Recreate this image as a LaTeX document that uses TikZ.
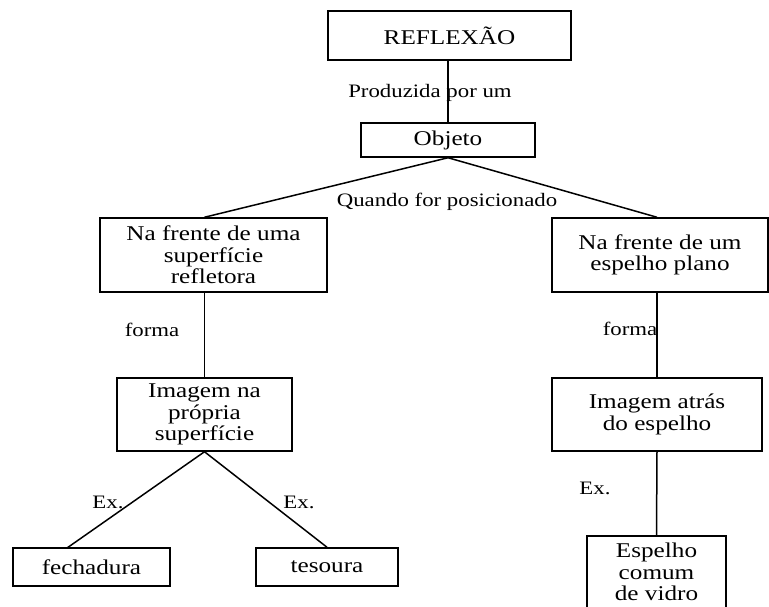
\documentclass[tikz,border=0pt]{standalone}
\usepackage{fontspec}
\setmainfont{Liberation Serif}[FakeStretch=1.2]
\begin{document}
\begin{tikzpicture}[x=1pt,y=-1pt,line width=1.5pt,
  box/.style={draw,inner sep=0pt,align=center,font=\fontsize{21}{21.5}\selectfont},
  lbl/.style={inner sep=0pt,font=\fontsize{19}{21}\selectfont}]
\useasboundingbox (0,0) rectangle (769,607);
\node[box,minimum width=243,minimum height=49] (refl) at (449.5,35.5) {REFLEXÃO};
\node[box,minimum width=174,minimum height=34] (obj) at (448,140) {Objeto};
\node[box,minimum width=227,minimum height=74] (sup) at (213.5,255) {Na frente de uma\\superfície\\refletora};
\node[box,minimum width=216,minimum height=74] (esp) at (660,255) {Na frente de um\\espelho plano};
\node[box,minimum width=175,minimum height=73] (imgsup) at (204.5,414.5) {Imagem na\\própria\\superfície};
\node[box,minimum width=210,minimum height=73] (imgesp) at (657,414.5) {Imagem atrás\\do espelho};
\node[box,minimum width=157,minimum height=38] (fech) at (91.5,567) {fechadura};
\node[box,minimum width=142,minimum height=38] (tes) at (327,567) {tesoura};
\node[box,minimum width=139,minimum height=72] (vidro) at (656.5,572) {Espelho\\comum\\de vidro};
\coordinate (fechtop) at (67,548);
% ligacoes
\draw (refl.south -| obj) -- (obj.north);
\draw (obj.south) -- (imgsup.north |- sup.north);
\draw (obj.south) -- (imgesp.north |- esp.north);
\draw (imgsup.north |- sup.south) -- (imgsup.north);
\draw (imgesp.north |- esp.south) -- (imgesp.north);
\draw (imgsup.south) -- (fechtop);
\draw (imgsup.south) -- (tes.north);
\draw (imgesp.south) -- (vidro.north);
% rotulos
\node[lbl] (prod) at (430,93) {Produzida por um};
\node[lbl] (quando) at (447,202) {Quando for posicionado};
\foreach \n/\x/\y/\t in {formaa/152/330/forma,formab/630/329/forma,exa/108/502/Ex.,exb/299/502/Ex.,exc/595/488/Ex.}
  \node[lbl] (\n) at (\x,\y) {\t};
\end{tikzpicture}
\end{document}
